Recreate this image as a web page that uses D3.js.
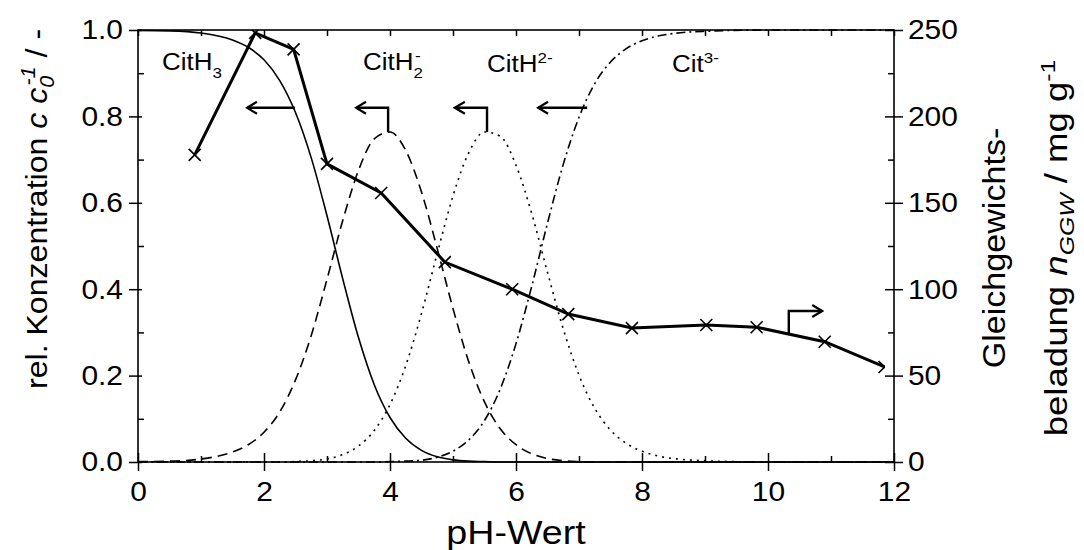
<!doctype html>
<html>
<head>
<meta charset="utf-8">
<script src="https://cdnjs.cloudflare.com/ajax/libs/d3/7.8.5/d3.min.js"></script>
<style>
  body { margin: 0; background: #fff; }
  svg text { font-family: "Liberation Sans", Arial, sans-serif; fill: #000; }
</style>
</head>
<body>
<svg id="chart" width="1084" height="550"></svg>
<script>
// pH grid for the speciation curves
var phGrid = [0, 0.5, 1, 1.5, 1.75, 2, 2.25, 2.5, 2.75, 3, 3.25, 3.5, 3.75, 4, 4.25, 4.5, 4.75, 5,
  5.25, 5.5, 5.75, 6, 6.25, 6.5, 6.75, 7, 7.25, 7.5, 7.75, 8, 8.25, 8.5, 9, 10, 11, 12];
var citH3 = [0.999, 0.998, 0.993, 0.977, 0.960, 0.931, 0.883, 0.809, 0.704, 0.570, 0.424, 0.288, 0.179, 0.103,
  0.055, 0.027, 0.012, 0.005, 0.002, 0.001, 0, 0, 0, 0, 0, 0, 0, 0, 0, 0, 0, 0, 0, 0, 0, 0];
var citH2 = [0.001, 0.002, 0.007, 0.023, 0.040, 0.069, 0.116, 0.190, 0.293, 0.423, 0.559, 0.675, 0.748, 0.764,
  0.721, 0.625, 0.494, 0.355, 0.232, 0.139, 0.077, 0.040, 0.019, 0.008, 0.003, 0.001, 0, 0, 0, 0, 0, 0, 0, 0, 0, 0];
var citH = [0, 0, 0, 0, 0, 0, 0, 0.001, 0.003, 0.007, 0.017, 0.037, 0.073, 0.133, 0.223, 0.344, 0.483, 0.616,
  0.716, 0.764, 0.754, 0.687, 0.575, 0.439, 0.308, 0.201, 0.124, 0.074, 0.043, 0.025, 0.014, 0.008, 0.003, 0, 0, 0];
var cit = [0, 0, 0, 0, 0, 0, 0, 0, 0, 0, 0, 0, 0, 0.001, 0.002, 0.004, 0.011, 0.025, 0.051, 0.096, 0.169, 0.274,
  0.407, 0.553, 0.689, 0.798, 0.876, 0.926, 0.957, 0.975, 0.986, 0.992, 0.997, 1, 1, 1];

// measured loading (right axis, mg/g)
var loadPh = [0.9, 1.86, 2.47, 3.0, 3.86, 4.87, 5.94, 6.83, 7.84, 9.02, 9.82, 10.9, 11.85];
var loadVal = [177.7, 248.3, 238.8, 172.5, 155.7, 115.7, 100, 85.6, 77.5, 79.3, 78, 69.6, 55];

var xTicks = [0, 2, 4, 6, 8, 10, 12];
var yLeftTicks = [0, 0.2, 0.4, 0.6, 0.8, 1.0];
var yRightTicks = [0, 50, 100, 150, 200, 250];

// annotation arrows (pH, left-axis value) and (pH, right-axis value)
var arrowH3 = [[2.49, 0.82], [1.73, 0.82]];
var arrowH2 = [[3.97, 0.764], [3.97, 0.82], [3.46, 0.82]];
var arrowH = [[5.54, 0.764], [5.54, 0.82], [5.03, 0.82]];
var arrowC = [[7.13, 0.82], [6.35, 0.82]];
var arrowLoad = [[10.33, 74.7], [10.33, 87.4], [10.86, 87.4]];

var svg = d3.select("#chart");
var x = d3.scaleLinear().domain([0, 12]).range([138, 894]);
var yL = d3.scaleLinear().domain([0, 1]).range([462, 30]);
var yR = d3.scaleLinear().domain([0, 250]).range([462, 30]);

svg.append("defs").append("marker")
  .attr("id", "head")
  .attr("viewBox", "-12 -7 14 14")
  .attr("markerUnits", "userSpaceOnUse")
  .attr("markerWidth", 14).attr("markerHeight", 14)
  .attr("refX", 0).attr("refY", 0)
  .attr("orient", "auto")
  .append("path")
  .attr("d", "M-10,-6L0,0L-10,6")
  .attr("fill", "none").attr("stroke", "#000").attr("stroke-width", 2.2);

svg.select("defs").append("clipPath").attr("id", "mclip")
  .append("rect").attr("x", x(0)).attr("y", yR(250))
  .attr("width", x(d3.max(loadPh)) - x(0) + 0.5).attr("height", yR(0) - yR(250));

// axes
function styleAxis(g) {
  g.select(".domain").remove();
  g.selectAll("line").attr("stroke", "#000").attr("stroke-width", 1.5);
  g.selectAll("text").attr("font-size", 28).attr("fill", "#000").attr("font-family", null);
}

var minorX = d3.range(1, 12, 2);
var gx = svg.append("g").attr("transform", "translate(0,462)")
  .call(d3.axisBottom(x).tickValues(xTicks).tickSize(9).tickPadding(10).tickFormat(d3.format("d")));
styleAxis(gx);
gx.selectAll(".tick line").attr("y1", -9);
gx.selectAll(".tick text").attr("dy", "0.71em").attr("transform", "scale(1.07,1)");
svg.append("g").attr("transform", "translate(0,462)")
  .call(d3.axisBottom(x).tickValues(minorX).tickSize(-6).tickFormat("")).call(styleAxis);
svg.append("g").attr("transform", "translate(0,30)")
  .call(d3.axisTop(x).tickValues(d3.range(0, 13)).tickSize(-6).tickFormat("")).call(styleAxis);

var gl = svg.append("g").attr("transform", "translate(138,0)")
  .call(d3.axisLeft(yL).tickValues(yLeftTicks).tickSize(9).tickFormat(d3.format(".1f")));
styleAxis(gl);
gl.selectAll(".tick line").attr("x1", 4);
gl.selectAll(".tick text").attr("x", -14).attr("transform", "scale(1.07,1)");
svg.append("g").attr("transform", "translate(138,0)")
  .call(d3.axisLeft(yL).tickValues([0.1, 0.3, 0.5, 0.7, 0.9]).tickSize(-6).tickFormat("")).call(styleAxis);

var gr = svg.append("g").attr("transform", "translate(894,0)")
  .call(d3.axisRight(yR).tickValues(yRightTicks).tickSize(9).tickFormat(d3.format("d")));
styleAxis(gr);
gr.selectAll(".tick line").attr("x1", -9);
gr.selectAll(".tick text").attr("x", 13).attr("transform", "scale(1.07,1)");
svg.append("g").attr("transform", "translate(894,0)")
  .call(d3.axisRight(yR).tickValues([25, 75, 125, 175, 225]).tickSize(-6).tickFormat("")).call(styleAxis);

svg.append("rect")
  .attr("x", x(0)).attr("y", yL(1))
  .attr("width", x(12) - x(0)).attr("height", yL(0) - yL(1))
  .attr("fill", "none").attr("stroke", "#000").attr("stroke-width", 1.6);

// speciation curves
var species = [
  { vals: citH3, dash: null },
  { vals: citH2, dash: "10,6" },
  { vals: citH, dash: "2,5" },
  { vals: cit, dash: "9,4,2,4" }
];
var curve = d3.line()
  .x(function(d) { return x(d[0]); })
  .y(function(d) { return yL(d[1]); })
  .curve(d3.curveMonotoneX);

species.forEach(function(s) {
  svg.append("path")
    .attr("d", curve(phGrid.map(function(p, i) { return [p, s.vals[i]]; })))
    .attr("fill", "none")
    .attr("stroke", "#000")
    .attr("stroke-width", 1.6)
    .attr("stroke-dasharray", s.dash);
});

// loading line with x markers
var loadData = loadPh.map(function(p, i) { return [p, loadVal[i]]; });
var loadLine = d3.line()
  .x(function(d) { return x(d[0]); })
  .y(function(d) { return yR(d[1]); });

svg.append("path")
  .attr("d", loadLine(loadData))
  .attr("fill", "none")
  .attr("stroke", "#000")
  .attr("stroke-width", 3);

svg.append("g").attr("clip-path", "url(#mclip)")
  .selectAll("path.mark")
  .data(loadData)
  .enter()
  .append("path")
    .attr("class", "mark")
    .attr("d", function(d) {
      var cx = x(d[0]), cy = yR(d[1]), r = 6;
      return "M" + (cx - r) + "," + (cy - r) + "L" + (cx + r) + "," + (cy + r) +
        "M" + (cx - r) + "," + (cy + r) + "L" + (cx + r) + "," + (cy - r);
    })
    .attr("fill", "none")
    .attr("stroke", "#000")
    .attr("stroke-width", 1.6);

// arrows
var arrowL = d3.line().x(function(d) { return x(d[0]); }).y(function(d) { return yL(d[1]); });
[arrowH3, arrowH2, arrowH, arrowC].forEach(function(a) {
  svg.append("path").attr("d", arrowL(a))
    .attr("fill", "none").attr("stroke", "#000").attr("stroke-width", 2.4)
    .attr("marker-end", "url(#head)");
});
svg.append("path").attr("d", loadLine(arrowLoad))
  .attr("fill", "none").attr("stroke", "#000").attr("stroke-width", 2.4)
  .attr("marker-end", "url(#head)");

// text helper: labels are a little wider than Arial in the figure
function label(px, py, rot, anchor, size, sx) {
  return svg.append("text")
    .attr("transform", "translate(" + px + "," + py + ") rotate(" + rot + ") scale(" + sx + ",1)")
    .attr("text-anchor", anchor)
    .attr("font-size", size);
}

// species labels
var t1 = label(162, 70, 0, "start", 23, 1.13);
t1.append("tspan").text("CitH");
t1.append("tspan").attr("dy", 8).attr("font-size", 15).text("3");

var t2 = label(363, 70, 0, "start", 23, 1.13);
t2.append("tspan").text("CitH");
t2.append("tspan").attr("dy", 8).attr("font-size", 15).text("2");
t2.append("tspan").attr("dx", -7).attr("dy", -17).attr("font-size", 15).text("-");

var t3 = label(487, 72, 0, "start", 23, 1.13);
t3.append("tspan").text("CitH");
t3.append("tspan").attr("dy", -9).attr("font-size", 15).text("2-");

var t4 = label(672, 72, 0, "start", 23, 1.13);
t4.append("tspan").text("Cit");
t4.append("tspan").attr("dy", -9).attr("font-size", 15).text("3-");

// axis titles
label(516, 544, 0, "middle", 33, 1.14).text("pH-Wert");

var lt = label(47, 389, -90, "start", 30, 1.07);
lt.append("tspan").text("rel. Konzentration ");
lt.append("tspan").attr("font-style", "italic").text("c c");
lt.append("tspan").attr("font-style", "italic").attr("font-size", 20).attr("dy", 7).text("0");
lt.append("tspan").attr("font-size", 20).attr("font-style", "italic").attr("dx", -9).attr("dy", -19).text("-1");
lt.append("tspan").attr("dy", 12).text(" / -");

label(1005, 248, -90, "middle", 31, 1.1).text("Gleichgewichts-");
var rt = label(1067, 248, -90, "middle", 31, 1.18);
rt.append("tspan").text("beladung ");
rt.append("tspan").attr("font-style", "italic").text("n");
rt.append("tspan").attr("font-style", "italic").attr("font-size", 21).attr("dy", 7).text("GGW");
rt.append("tspan").attr("dy", -7).text(" / mg g");
rt.append("tspan").attr("font-size", 21).attr("dy", -12).text("-1");
</script>
</body>
</html>
